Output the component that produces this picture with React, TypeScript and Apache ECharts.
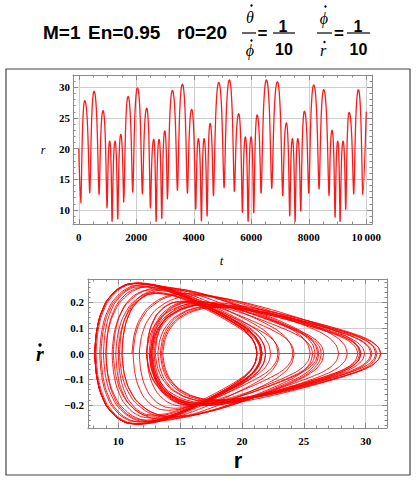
import React, { useEffect, useRef } from "react";
import * as echarts from "echarts";

// Turning points of r(t) (t, r); first and last points are the ends of the run
const turnT = [
  0, 70, 209, 383, 533, 707, 846, 985, 1078, 1159, 1264, 1356, 1461, 1565, 1716, 1878,
  2041, 2214, 2365, 2493, 2609, 2690, 2794, 2887, 2991, 3084, 3258, 3432, 3606, 3780,
  3930, 4070, 4162, 4267, 4359, 4464, 4568, 4684, 4870, 5055, 5240, 5414, 5565, 5693,
  5797, 5890, 5994, 6087, 6203, 6342, 6527, 6713, 6910, 7096, 7223, 7339, 7432, 7525,
  7617, 7722, 7849, 8000, 8174, 8359, 8522, 8707, 8811, 8916, 9008, 9090, 9194, 9287,
  9403, 9565, 9727, 9880, 10000,
];
const turnR = [
  20, 11.1, 27.8, 12.8, 29.35, 12.5, 26.2, 10.3, 21.2, 8.1, 21.2, 8.5, 22.3, 11.2, 28.5, 12.9,
  29.9, 12.6, 26.6, 10.3, 21.5, 8.1, 21.5, 8.6, 22.9, 11.7, 29.5, 13.2, 30.5, 12.7,
  26.4, 10.1, 21.6, 8.2, 21.6, 9.0, 24.1, 12.3, 30.8, 13.6, 31.2, 13.0, 25.7, 9.6,
  21.9, 8.1, 21.9, 9.5, 25.5, 12.7, 31.2, 13.5, 30.9, 12.3, 24.2, 9.0, 21.6, 8.1,
  21.6, 9.8, 26.1, 12.7, 30.4, 13.4, 29.6, 12.3, 23.0, 8.8, 21.2, 8.1, 21.2, 10.0,
  25.9, 12.6, 29.6, 12.5, 26,
];
// Largest |dr/dt| on each complete swing (turning point k -> k+1, for k = 1..74), lower panel
const swingPeak = [
  0.234, 0.203, 0.19, 0.195, 0.205, 0.245, 0.235, 0.274, 0.274, 0.267, 0.269, 0.221,
  0.233, 0.203, 0.19, 0.195, 0.204, 0.246, 0.235, 0.275, 0.275, 0.266, 0.269, 0.213,
  0.226, 0.185, 0.185, 0.192, 0.202, 0.249, 0.239, 0.273, 0.273, 0.259, 0.264, 0.205,
  0.2, 0.18, 0.18, 0.188, 0.195, 0.256, 0.249, 0.276, 0.276, 0.251, 0.258, 0.2,
  0.193, 0.182, 0.182, 0.2, 0.205, 0.264, 0.259, 0.275, 0.275, 0.244, 0.254, 0.201,
  0.192, 0.183, 0.183, 0.2, 0.202, 0.265, 0.262, 0.274, 0.274, 0.24, 0.25, 0.203,
  0.194, 0.195,
];
// Shape of one swing in the (r, dr/dt) plane: position across the swing vs share of its peak
const swingFrac = [0, 0.01, 0.03, 0.07, 0.13, 0.19, 0.26, 0.36, 0.48, 0.6, 0.72, 0.83, 0.91, 0.96, 0.99, 1];
const swingShape = [0, 0.3, 0.52, 0.74, 0.9, 0.98, 1, 0.97, 0.88, 0.76, 0.62, 0.48, 0.36, 0.25, 0.13, 0];
const riseTime = [0, 0.03, 0.08, 0.15, 0.23, 0.29, 0.36, 0.44, 0.55, 0.66, 0.77, 0.88, 1];
const riseFrac = [0, 0.01, 0.07, 0.19, 0.36, 0.48, 0.6, 0.72, 0.83, 0.91, 0.96, 0.99, 1];

const timeSeries: number[][] = [[turnT[0], turnR[0]]];
for (let i = 0; i < turnT.length - 1; i++) {
  const t0 = turnT[i], t1 = turnT[i + 1], r0 = turnR[i], r1 = turnR[i + 1];
  const full = i > 0 && i < turnT.length - 2;
  if (!full) {
    timeSeries.push([t1, r1]);
    continue;
  }
  const up = r1 > r0;
  for (let k = 1; k < riseTime.length; k++) {
    if (up) {
      timeSeries.push([t0 + riseTime[k] * (t1 - t0), r0 + riseFrac[k] * (r1 - r0)]);
    } else {
      const m = riseTime.length - 1 - k;
      timeSeries.push([t0 + (1 - riseTime[m]) * (t1 - t0), r1 + riseFrac[m] * (r0 - r1)]);
    }
  }
}

const phaseData: number[][] = [];
swingPeak.forEach((pk, s) => {
  const i = s + 1;
  const r0 = turnR[i];
  const r1 = turnR[i + 1];
  const a = Math.min(r0, r1);
  const b = Math.max(r0, r1);
  const up = r1 > r0;
  const idx = swingFrac.map((_, k) => k);
  const order = up ? idx : idx.slice().reverse();
  order.forEach((k, j) => {
    if (s > 0 && j === 0) return;
    phaseData.push([a + swingFrac[k] * (b - a), (up ? 1 : -1) * pk * swingShape[k]]);
  });
});

const AXIS = "#8a8a8a";
const GRID = "#cdcdcd";
const LABEL_FONT = { color: "#000", fontFamily: "Liberation Serif", fontWeight: "bold" as const, fontSize: 11 };

function axis(gridIndex: number, position: string, min: number, max: number, minorSplit: number, main: boolean, margin: number, fmt: (v: number) => string) {
  return {
    type: "value",
    gridIndex,
    position,
    min,
    max,
    splitNumber: 5,
    axisLine: { show: true, onZero: false, lineStyle: { color: AXIS, width: 1 } },
    axisTick: { show: true, inside: true, length: 5, lineStyle: { color: AXIS, width: 1 } },
    minorTick: { show: true, splitNumber: minorSplit, length: 2.5, lineStyle: { color: AXIS, width: 1 } },
    splitLine: { show: main, lineStyle: { color: GRID, width: 1 } },
    axisLabel: { show: main, showMinLabel: false, showMaxLabel: false, margin, formatter: fmt, ...LABEL_FONT },
  };
}

const intFmt = (v: number) => (v === 10000 ? "10\u2009000" : String(Math.round(v)));
const decFmt = (v: number) => v.toFixed(1).replace("-", "\u2212");

export default function App() {
  const ref = useRef<HTMLDivElement>(null);
  useEffect(() => {
    if (!ref.current) return;
    const chart = echarts.init(ref.current, null, { renderer: "svg" });
    const sans = "Liberation Sans";
    const serif = "Liberation Serif";
    const option: any = {
      animation: false,
      backgroundColor: "#fff",
      grid: [
        { left: 73, top: 75, width: 299, height: 149 },
        { left: 88, top: 279, width: 299, height: 149 },
      ],
      xAxis: [
        axis(0, "bottom", -200, 10200, 4, true, 7, intFmt),
        axis(0, "top", -200, 10200, 4, false, 7, intFmt),
        axis(1, "bottom", 7.55, 31.72, 5, true, 7, intFmt),
        axis(1, "top", 7.55, 31.72, 5, false, 7, intFmt),
      ],
      yAxis: [
        axis(0, "left", 7.7, 32, 5, true, 3, intFmt),
        axis(0, "right", 7.7, 32, 5, false, 3, intFmt),
        axis(1, "left", -0.29, 0.291, 5, true, 4, decFmt),
        axis(1, "right", -0.29, 0.291, 5, false, 4, decFmt),
      ],
      series: [
        {
          type: "line",
          xAxisIndex: 0,
          yAxisIndex: 0,
          data: timeSeries,
          showSymbol: false,
          smooth: 0.3,
          lineStyle: { color: "#ff1a1a", width: 1.3 },
        },
        {
          type: "line",
          xAxisIndex: 2,
          yAxisIndex: 2,
          data: phaseData,
          showSymbol: false,
          smooth: 0.2,
          lineStyle: { color: "#ff0000", width: 0.9 },
          markLine: {
            silent: true,
            symbol: ["none", "none"],
            label: { show: false },
            lineStyle: { color: "#555", width: 0.8, type: "solid" },
            data: [{ yAxis: 0 }],
          },
        },
      ],
      graphic: [
        { type: "rect", shape: { x: 6, y: 69, width: 404, height: 406 }, style: { fill: "none", stroke: "#444", lineWidth: 1.2 }, silent: true },
        { type: "text", left: 43, top: 23, style: { text: "M=1", font: `bold 19px "${sans}"`, fill: "#000" } },
        { type: "text", left: 88, top: 23, style: { text: "En=0.95", font: `bold 19px "${sans}"`, fill: "#000" } },
        { type: "text", left: 177, top: 23, style: { text: "r0=20", font: `bold 19px "${sans}"`, fill: "#000" } },
        // first fraction
        { type: "text", x: 250, y: 17, style: { text: "\u03b8", font: `italic 16px "${serif}"`, fill: "#000", align: "center", verticalAlign: "middle" } },
        { type: "circle", shape: { cx: 251.5, cy: 5.5, r: 1.2 }, style: { fill: "#000" } },
        { type: "line", shape: { x1: 242, y1: 33, x2: 256, y2: 33 }, style: { stroke: "#000", lineWidth: 1.2 } },
        { type: "text", x: 250, y: 50, style: { text: "\u03d5", font: `italic 16px "${serif}"`, fill: "#000", align: "center", verticalAlign: "middle" } },
        { type: "circle", shape: { cx: 251.5, cy: 40.5, r: 1.2 }, style: { fill: "#000" } },
        { type: "text", x: 262.5, y: 33, style: { text: "=", font: `bold 17px "${sans}"`, fill: "#000", align: "center", verticalAlign: "middle" } },
        { type: "text", x: 283, y: 26, style: { text: "1", font: `bold 16px "${sans}"`, fill: "#000", align: "center", verticalAlign: "middle" } },
        { type: "line", shape: { x1: 273, y1: 33, x2: 295, y2: 33 }, style: { stroke: "#000", lineWidth: 1.2 } },
        { type: "text", x: 284, y: 49, style: { text: "10", font: `bold 16px "${sans}"`, fill: "#000", align: "center", verticalAlign: "middle" } },
        // second fraction
        { type: "text", x: 324, y: 18, style: { text: "\u03d5", font: `italic 16px "${serif}"`, fill: "#000", align: "center", verticalAlign: "middle" } },
        { type: "circle", shape: { cx: 325.5, cy: 6.5, r: 1.2 }, style: { fill: "#000" } },
        { type: "line", shape: { x1: 317, y1: 33, x2: 332, y2: 33 }, style: { stroke: "#000", lineWidth: 1.2 } },
        { type: "text", x: 323, y: 50, style: { text: "r", font: `italic 16px "${serif}"`, fill: "#000", align: "center", verticalAlign: "middle" } },
        { type: "circle", shape: { cx: 324.5, cy: 42, r: 1.2 }, style: { fill: "#000" } },
        { type: "text", x: 339, y: 33, style: { text: "=", font: `bold 17px "${sans}"`, fill: "#000", align: "center", verticalAlign: "middle" } },
        { type: "text", x: 358, y: 26, style: { text: "1", font: `bold 16px "${sans}"`, fill: "#000", align: "center", verticalAlign: "middle" } },
        { type: "line", shape: { x1: 347, y1: 33, x2: 370, y2: 33 }, style: { stroke: "#000", lineWidth: 1.2 } },
        { type: "text", x: 358.5, y: 49, style: { text: "10", font: `bold 16px "${sans}"`, fill: "#000", align: "center", verticalAlign: "middle" } },
        // axis names
        { type: "text", x: 43, y: 150, style: { text: "r", font: `italic 12px "${serif}"`, fill: "#000", align: "center", verticalAlign: "middle" } },
        { type: "text", x: 221.5, y: 260, style: { text: "t", font: `italic 13px "${serif}"`, fill: "#000", align: "center", verticalAlign: "middle" } },
        { type: "text", x: 40, y: 354, style: { text: "r", font: `bold italic 20px "${serif}"`, fill: "#000", align: "center", verticalAlign: "middle" } },
        { type: "circle", shape: { cx: 40, cy: 345, r: 1.7 }, style: { fill: "#000" } },
        { type: "text", x: 238, y: 460, style: { text: "r", font: `bold 22px "${sans}"`, fill: "#000", align: "center", verticalAlign: "middle" } },
      ],
    };
    chart.setOption(option);
    return () => chart.dispose();
  }, []);
  return <div ref={ref} style={{ position: "fixed", left: 0, top: 0, width: 417, height: 481 }} />;
}
